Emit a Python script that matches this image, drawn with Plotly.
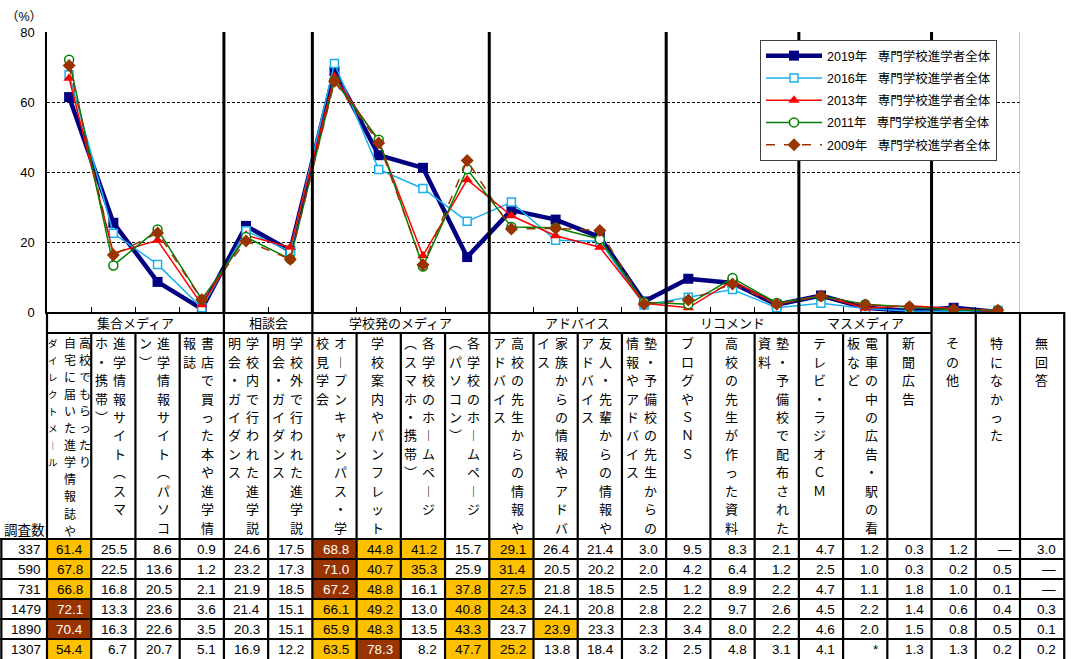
import plotly.graph_objects as go

# ---------------- data ----------------
group_names = ["集合メディア", "相談会", "学校発のメディア", "アドバイス", "リコメンド", "マスメディア"]
group_sizes = [4, 2, 4, 4, 3, 3]

# category labels as vertical text segments (right-most segment first)
category_lines = [
    ["高校でもらったり", "自宅に届いた進学情報誌や", "ダイレクトメ︱ル"],
    ["進学情報サイト︵スマ", "ホ・携帯︶"],
    ["進学情報サイト︵パソコ", "ン︶"],
    ["書店で買った本や進学情", "報誌"],
    ["学校内で行われた進学説", "明会・ガイダンス"],
    ["学校外で行われた進学説", "明会・ガイダンス"],
    ["オ︱プンキャンパス・学", "校見学会"],
    ["学校案内やパンフレット"],
    ["各学校のホ︱ムペ︱ジ", "︵スマホ・携帯︶"],
    ["各学校のホ︱ムペ︱ジ", "︵パソコン︶"],
    ["高校の先生からの情報や", "アドバイス"],
    ["家族からの情報やアドバ", "イス"],
    ["友人・先輩からの情報や", "アドバイス"],
    ["塾・予備校の先生からの", "情報やアドバイス"],
    ["ブログやＳＮＳ"],
    ["高校の先生が作った資料"],
    ["塾・予備校で配布された", "資料"],
    ["テレビ・ラジオＣＭ"],
    ["電車の中の広告・駅の看", "板など"],
    ["新聞広告"],
    ["その他"],
    ["特になかった"],
    ["無回答"],
]

series_names = ["2019年", "2016年", "2013年", "2011年", "2009年"]
survey_n = [337, 590, 731, 1479, 1890, 1307]

v2019 = [61.4, 25.5, 8.6, 0.9, 24.6, 17.5, 68.8, 44.8, 41.2, 15.7, 29.1, 26.4, 21.4, 3.0, 9.5, 8.3, 2.1, 4.7, 1.2, 0.3, 1.2, None, 3.0]
v2016 = [67.8, 22.5, 13.6, 1.2, 23.2, 17.3, 71.0, 40.7, 35.3, 25.9, 31.4, 20.5, 20.2, 2.0, 4.2, 6.4, 1.2, 2.5, 1.0, 0.3, 0.2, 0.5, None]
v2013 = [66.8, 16.8, 20.5, 2.1, 21.9, 18.5, 67.2, 48.8, 16.1, 37.8, 27.5, 21.8, 18.5, 2.5, 1.2, 8.9, 2.2, 4.7, 1.1, 1.8, 1.0, 0.1, None]
v2011 = [72.1, 13.3, 23.6, 3.6, 21.4, 15.1, 66.1, 49.2, 13.0, 40.8, 24.3, 24.1, 20.8, 2.8, 2.2, 9.7, 2.6, 4.5, 2.2, 1.4, 0.6, 0.4, 0.3]
v2009 = [70.4, 16.3, 22.6, 3.5, 20.3, 15.1, 65.9, 48.3, 13.5, 43.3, 23.7, 23.9, 23.3, 2.3, 3.4, 8.0, 2.2, 4.6, 2.0, 1.5, 0.8, 0.5, 0.1]
v_other = [54.4, 6.7, 20.7, 5.1, 16.9, 12.2, 63.5, 78.3, 8.2, 47.7, 25.2, 13.8, 18.4, 3.2, 2.5, 4.8, 3.1, 4.1, "*", 1.3, 1.3, 0.2, 0.2]

table_rows = [v2019, v2016, v2013, v2011, v2009, v_other]

# highlighted cells (row, col) -> kind
highlight = {
    (0, 0): "g", (0, 6): "b", (0, 7): "g", (0, 8): "g", (0, 10): "g",
    (1, 0): "g", (1, 6): "b", (1, 7): "g", (1, 8): "g", (1, 10): "g",
    (2, 0): "g", (2, 6): "b", (2, 7): "g", (2, 9): "g", (2, 10): "g",
    (3, 0): "b", (3, 6): "g", (3, 7): "g", (3, 9): "g", (3, 10): "g",
    (4, 0): "b", (4, 6): "g", (4, 7): "g", (4, 9): "g", (4, 11): "g",
    (5, 0): "g", (5, 6): "g", (5, 7): "b", (5, 9): "g", (5, 10): "g",
}

# ---------------- layout constants ----------------
W, H = 1073, 659
PL, PR, PT, PB = 47, 1020, 32, 312       # chart area in px
NCOL_PLOT = 22
NCOL = len(category_lines)
COLW = (PR - PL) / NCOL_PLOT
x2_lo = -PL / COLW - 0.5
x2_hi = (W - PL) / COLW - 0.5
TBL_H = H - PB
HDR_B = 21
LBL_B = 227
ROW_H = 20.0

NUM_FONT = "Liberation Sans, Arial, Noto Sans CJK JP"
JP_FONT = "Noto Sans CJK JP"
GOLD = "#FFC000"
BROWN = "#993300"

styles = [
    dict(color="#000080", width=4.5, symbol="square", size=10, fill="#000080", dash="solid"),
    dict(color="#1AB0EE", width=1.5, symbol="square", size=8, fill="white", dash="solid"),
    dict(color="#FF0000", width=1.5, symbol="triangle-up", size=10, fill="#FF0000", dash="solid"),
    dict(color="#008000", width=1.5, symbol="circle", size=9, fill="white", dash="solid"),
    dict(color=BROWN, width=1.5, symbol="diamond", size=10, fill=BROWN, dash="dash"),
]

fig = go.Figure()
xs = list(range(NCOL_PLOT))
for i, (name, vals) in enumerate(zip(series_names, table_rows[:5])):
    st = styles[i]
    ys = [0 if v is None else v for v in vals[:NCOL_PLOT]]
    fig.add_trace(go.Scatter(
        x=xs, y=ys, mode="lines+markers",
        name=name + "\u00a0\u00a0\u00a0専門学校進学者全体",
        legendgroup=name,
        line=dict(color=st["color"], width=st["width"], dash=st["dash"]),
        marker=dict(symbol=st["symbol"], size=st["size"], color=st["fill"],
                    line=dict(color=st["color"], width=1.5 if st["fill"] == "white" else 0)),
        xaxis="x", yaxis="y", hoverinfo="skip",
    ))

shapes = []
annotations = []

# chart group separators & right border
bounds = []
acc = 0
for s in group_sizes:
    acc += s
    bounds.append(acc - 0.5)
for b in bounds:
    shapes.append(dict(type="line", xref="x", yref="y", x0=b, x1=b, y0=0, y1=80,
                       line=dict(color="black", width=3), layer="above"))
shapes.append(dict(type="line", xref="x", yref="y", x0=NCOL_PLOT - 0.5, x1=NCOL_PLOT - 0.5,
                   y0=0, y1=80, line=dict(color="#888888", width=1), layer="above"))

# table: cell backgrounds
for (r, c), kind in highlight.items():
    y0 = LBL_B + ROW_H * r
    shapes.append(dict(type="rect", xref="x2", yref="y2", x0=c - 0.5, x1=c + 0.5,
                       y0=y0, y1=y0 + ROW_H, fillcolor=GOLD if kind == "g" else BROWN,
                       line=dict(width=0), layer="below"))

# table: lines
LW = 2.2
group_bounds = [-0.5] + bounds + [NCOL - 2.5, NCOL - 1.5, NCOL - 0.5]
for k in range(NCOL + 1):
    b = k - 0.5
    top = 0 if any(abs(b - g) < 1e-6 for g in group_bounds) else HDR_B
    shapes.append(dict(type="line", xref="x2", yref="y2", x0=b, x1=b, y0=top, y1=TBL_H + 5,
                       line=dict(color="black", width=LW)))
shapes.append(dict(type="line", xref="x2", yref="y2", x0=-0.5, x1=NCOL - 0.5, y0=1, y1=1,
                   line=dict(color="black", width=LW)))
shapes.append(dict(type="line", xref="x2", yref="y2", x0=-0.5, x1=bounds[-1], y0=HDR_B, y1=HDR_B,
                   line=dict(color="black", width=LW)))
for r in range(len(table_rows)):
    yy = LBL_B + ROW_H * r
    shapes.append(dict(type="line", xref="x2", yref="y2", x0=x2_lo, x1=NCOL - 0.5, y0=yy, y1=yy,
                       line=dict(color="black", width=LW)))
shapes.append(dict(type="line", xref="x2", yref="y2", x0=x2_lo + 0.03, x1=x2_lo + 0.03,
                   y0=LBL_B, y1=TBL_H + 5, line=dict(color="black", width=LW)))

# group header labels
start = 0
for g, s in zip(group_names, group_sizes):
    annotations.append(dict(xref="x2", yref="y2", x=start + (s - 1) / 2, y=HDR_B / 2 + 0.5,
                            text=g, showarrow=False, font=dict(family=JP_FONT, size=13, color="black")))
    start += s

# vertical category labels (one annotation per character)
for c, segs in enumerate(category_lines):
    if len(segs) == 3:
        offs, step, sizes = [15.5, 0.5, -16], 17.0, [12, 12, 9.5]
    elif len(segs) == 2:
        offs, step, sizes = [6, -12], 18.4, [13, 13]
    else:
        offs, step, sizes = [-1], 18.4, [13]
    for seg, off, fs in zip(segs, offs, sizes):
        for k, ch in enumerate(seg):
            annotations.append(dict(xref="x2", yref="y2", x=c, xshift=off, y=31 + k * step,
                                    text=ch, showarrow=False, xanchor="center", yanchor="middle",
                                    font=dict(family=JP_FONT, size=fs, color="black")))

annotations.append(dict(xref="paper", yref="y2", x=2 / W, y=LBL_B - 10, text="調査数",
                        showarrow=False, xanchor="left", yanchor="middle",
                        font=dict(family=JP_FONT, size=13.5, color="black")))

# table numbers
for r, vals in enumerate(table_rows):
    yc = LBL_B + ROW_H * (r + 0.5)
    annotations.append(dict(xref="x2", yref="y2", x=-0.5, xshift=-4, y=yc, text=str(survey_n[r]),
                            showarrow=False, xanchor="right", yanchor="middle",
                            font=dict(family=NUM_FONT, size=13.5, color="black")))
    for c, v in enumerate(vals):
        if v is None:
            txt = "—"
        elif isinstance(v, str):
            txt = v
        else:
            txt = f"{v:.1f}"
        col = "white" if highlight.get((r, c)) == "b" else "black"
        annotations.append(dict(xref="x2", yref="y2", x=c + 0.5, xshift=-6, y=yc, text=txt,
                                showarrow=False, xanchor="right", yanchor="middle",
                                font=dict(family=NUM_FONT, size=13.5, color=col)))

annotations.append(dict(xref="paper", yref="paper", x=4 / W, y=1 - 17 / H, text="（%）",
                        showarrow=False, xanchor="left", yanchor="middle",
                        font=dict(family=NUM_FONT, size=12.5, color="black")))

fig.update_layout(
    width=W, height=H,
    margin=dict(l=0, r=0, t=0, b=0, pad=0, autoexpand=False),
    paper_bgcolor="white", plot_bgcolor="white",
    showlegend=True,
    legend=dict(x=760 / W, y=1 - 40 / H, xanchor="left", yanchor="top",
                bgcolor="white", bordercolor="#404040", borderwidth=1,
                font=dict(family=NUM_FONT, size=12.5, color="black"),
                traceorder="grouped", tracegroupgap=3, itemwidth=56),
    xaxis=dict(domain=[PL / W, PR / W], range=[-0.5, NCOL_PLOT - 0.5], anchor="y",
               showgrid=False, zeroline=False, showline=True, linecolor="black", linewidth=1.5,
               tickvals=[k + 0.5 for k in range(NCOL_PLOT - 1)], ticks="inside", ticklen=5,
               tickcolor="black", showticklabels=False, fixedrange=True, automargin=False),
    yaxis=dict(domain=[1 - PB / H, 1 - PT / H], range=[0, 80], anchor="x",
               tickvals=[0, 20, 40, 60, 80], showgrid=True, gridcolor="black", gridwidth=1,
               griddash="3px,2px", zeroline=False, showline=True, linecolor="black", linewidth=1.5,
               ticks="", ticklabelstandoff=8, automargin=False,
               tickfont=dict(family=NUM_FONT, size=13, color="black"), fixedrange=True),
    xaxis2=dict(domain=[0, 1], range=[x2_lo, x2_hi], anchor="y2", visible=False,
                fixedrange=True, automargin=False),
    yaxis2=dict(domain=[0, 1 - PB / H], range=[TBL_H, 0], anchor="x2", visible=False,
                fixedrange=True, automargin=False),
    shapes=shapes,
    annotations=annotations,
)

fig.write_html("out.html", config={"displayModeBar": False},
               post_script="document.body.style.margin='0px';")
